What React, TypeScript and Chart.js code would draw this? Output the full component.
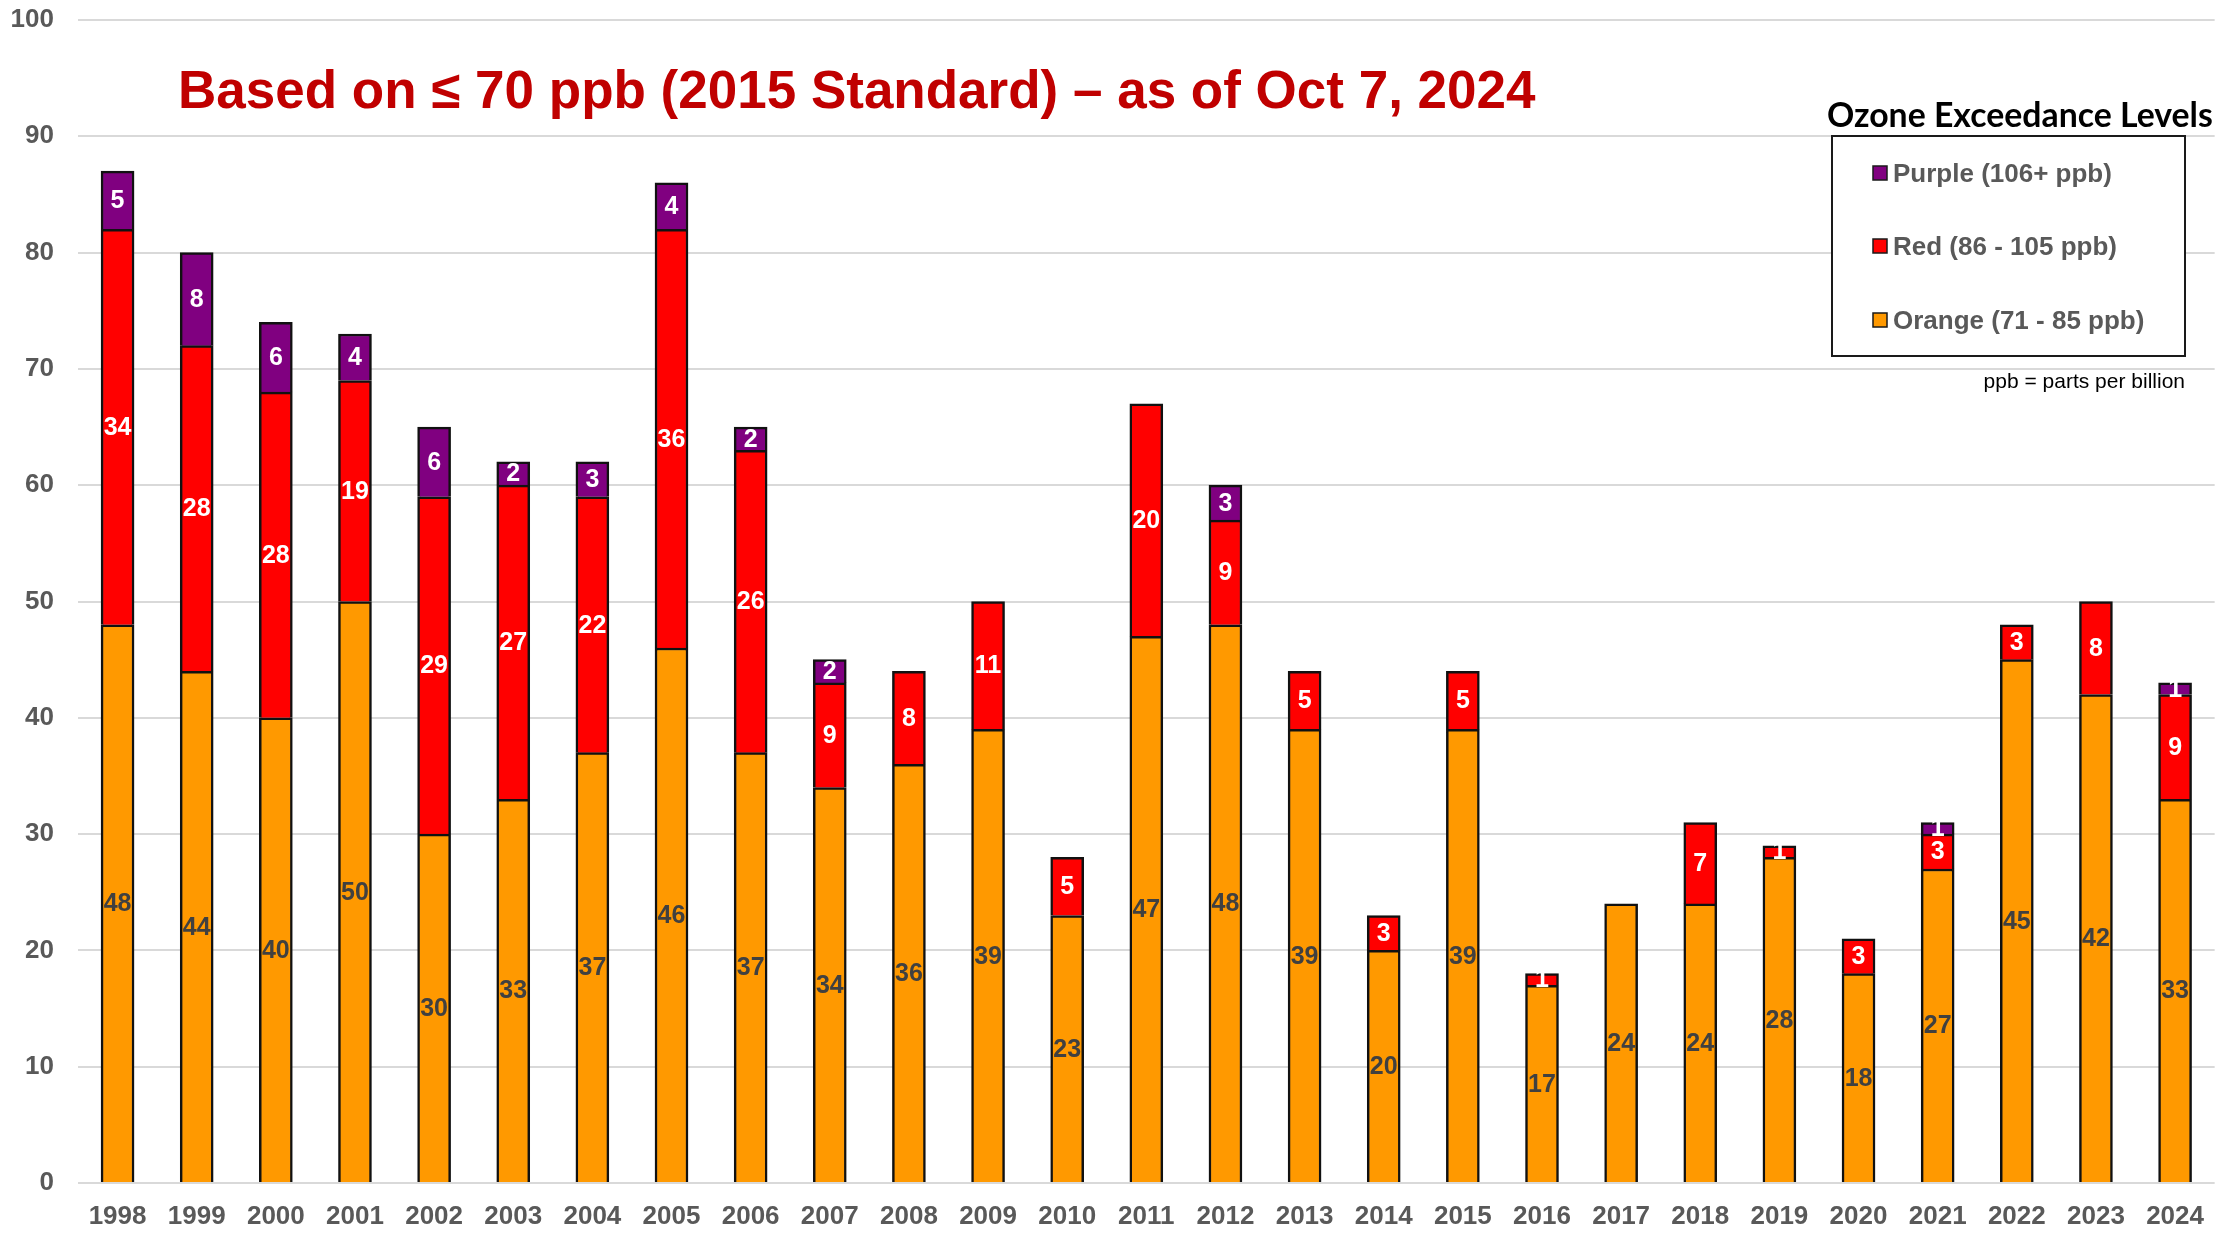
import React, { useEffect, useRef } from "react";
import { Chart, registerables } from "chart.js";

Chart.register(...registerables);

const years = [
  "1998", "1999", "2000", "2001", "2002", "2003", "2004", "2005", "2006", "2007",
  "2008", "2009", "2010", "2011", "2012", "2013", "2014", "2015", "2016", "2017",
  "2018", "2019", "2020", "2021", "2022", "2023", "2024",
];
const orangeDays = [48, 44, 40, 50, 30, 33, 37, 46, 37, 34, 36, 39, 23, 47, 48, 39, 20, 39, 17, 24, 24, 28, 18, 27, 45, 42, 33];
const redDays = [34, 28, 28, 19, 29, 27, 22, 36, 26, 9, 8, 11, 5, 20, 9, 5, 3, 5, 1, 0, 7, 1, 3, 3, 3, 8, 9];
const purpleDays = [5, 8, 6, 4, 6, 2, 3, 4, 2, 2, 0, 0, 0, 0, 3, 0, 0, 0, 0, 0, 0, 0, 0, 1, 0, 0, 1];
const yTicks = [0, 10, 20, 30, 40, 50, 60, 70, 80, 90, 100];

const seriesLabels = ["Orange (71 - 85 ppb)", "Red (86 - 105 ppb)", "Purple (106+ ppb)"];
const seriesColors = ["#FF9900", "#FF0000", "#800080"];
const labelColors = ["#404040", "#FFFFFF", "#FFFFFF"];

const titleText = "Based on \u2264 70 ppb (2015 Standard) \u2013 as of Oct 7, 2024";
const legendTitle = "Ozone Exceedance Levels";
const footNote = "ppb = parts per billion";

const SANS = '"Liberation Sans", Arial, sans-serif';

const barLabelPlugin = {
  id: "barLabels",
  afterDatasetsDraw(chart: any) {
    const ctx = chart.ctx;
    ctx.save();
    ctx.font = `bold 25px ${SANS}`;
    ctx.textAlign = "center";
    ctx.textBaseline = "middle";
    chart.data.datasets.forEach((ds: any, di: number) => {
      const meta = chart.getDatasetMeta(di);
      meta.data.forEach((el: any, i: number) => {
        const v = ds.data[i];
        if (!v) return;
        ctx.fillStyle = labelColors[di];
        ctx.fillText(String(v), el.x, (el.y + el.base) / 2 + 1);
      });
    });
    ctx.restore();
  },
};

const decorPlugin = {
  id: "decor",
  afterDraw(chart: any) {
    const ctx = chart.ctx;
    ctx.save();
    // main title
    ctx.fillStyle = "#C00000";
    ctx.font = `bold 53px ${SANS}`;
    ctx.textAlign = "left";
    ctx.textBaseline = "alphabetic";
    ctx.fillText(titleText, 178, 108);

    // legend title
    ctx.font = `bold 36px Lato, "Open Sans", sans-serif`;
    const w = ctx.measureText(legendTitle).width;
    const target = 386;
    const size = 36 * (target / w);
    ctx.font = `bold ${size.toFixed(1)}px Lato, "Open Sans", sans-serif`;
    ctx.fillStyle = "#000000";
    ctx.fillText(legendTitle, 1827, 127);

    // legend box
    ctx.fillStyle = "#FFFFFF";
    ctx.fillRect(1832, 136, 353, 220);
    ctx.strokeStyle = "#1a1a1a";
    ctx.lineWidth = 2;
    ctx.strokeRect(1832, 136, 353, 220);

    // legend items (reverse order: Purple, Red, Orange)
    const ds = chart.data.datasets;
    const centers = [173, 246, 320];
    ctx.font = `bold 26px ${SANS}`;
    ctx.textBaseline = "alphabetic";
    for (let k = 0; k < ds.length; k++) {
      const d = ds[ds.length - 1 - k];
      const cy = centers[k];
      ctx.fillStyle = d.backgroundColor;
      ctx.fillRect(1873, cy - 7, 14, 14);
      ctx.strokeStyle = "#1a1a1a";
      ctx.lineWidth = 1.5;
      ctx.strokeRect(1873, cy - 7, 14, 14);
      ctx.fillStyle = "#595959";
      ctx.fillText(d.label, 1893, cy + 9);
    }

    // footnote
    ctx.font = `21px ${SANS}`;
    ctx.fillStyle = "#000000";
    ctx.textAlign = "right";
    ctx.fillText(footNote, 2185, 388);
    ctx.restore();
  },
};

export default function App() {
  const ref = useRef<HTMLCanvasElement>(null);

  useEffect(() => {
    if (!ref.current) return;
    const valuesList = [orangeDays, redDays, purpleDays];
    const chart = new Chart(ref.current, {
      type: "bar",
      data: {
        labels: years,
        datasets: valuesList.map((vals, i) => ({
          label: seriesLabels[i],
          data: vals.map((v) => (v ? v : null)),
          backgroundColor: seriesColors[i],
          borderColor: "#111111",
          borderWidth: 2.5,
          borderSkipped: "start",
          barThickness: 33,
        })),
      },
      options: {
        responsive: false,
        animation: false,
        devicePixelRatio: 1,
        layout: { padding: { top: 20, left: 0, right: 0, bottom: 0 } },
        plugins: {
          legend: { display: false },
          tooltip: { enabled: false },
          title: { display: false },
        },
        scales: {
          x: {
            stacked: true,
            grid: { display: false, drawTicks: false },
            border: { display: false },
            ticks: {
              color: "#595959",
              font: { family: SANS, size: 26, weight: "bold" },
              padding: 18,
              maxRotation: 0,
              autoSkip: false,
            },
            afterFit: (s: any) => {
              s.height = 50;
            },
          },
          y: {
            stacked: true,
            min: 0,
            max: 100,
            afterBuildTicks: (s: any) => {
              s.ticks = yTicks.map((v) => ({ value: v }));
            },
            grid: { color: "#D9D9D9", lineWidth: 2, drawTicks: false },
            border: { display: false },
            ticks: {
              color: "#595959",
              font: { family: SANS, size: 26, weight: "bold" },
              padding: 24,
            },
            afterFit: (s: any) => {
              s.width = 78;
              s.paddingTop = 0;
              s.paddingBottom = 0;
            },
          },
        },
      },
      plugins: [barLabelPlugin, decorPlugin],
    } as any);
    return () => chart.destroy();
  }, []);

  return (
    <div style={{ position: "absolute", left: 0, top: 0, width: 2222, height: 1233, background: "#FFFFFF" }}>
      <canvas ref={ref} width={2222} height={1233} style={{ display: "block" }} />
    </div>
  );
}
